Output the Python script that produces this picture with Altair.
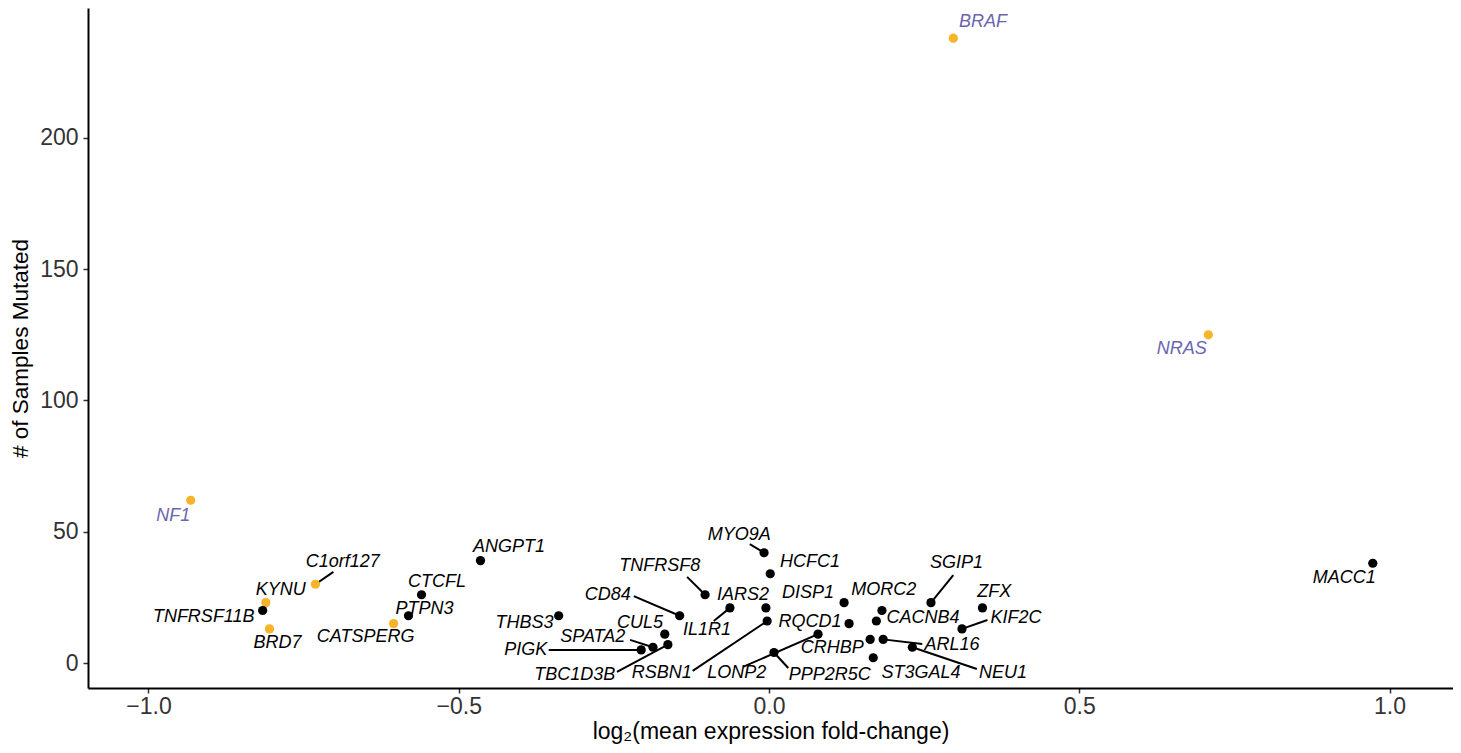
import altair as alt
import pandas as pd

# ---- data ----
genes = ["BRAF", "NRAS", "NF1", "MACC1", "C1orf127", "KYNU", "TNFRSF11B", "BRD7",
         "CATSPERG", "PTPN3", "CTCFL", "ANGPT1", "THBS3", "CD84", "TNFRSF8", "IL1R1",
         "IARS2", "MYO9A", "HCFC1", "RSBN1", "CUL5", "TBC1D3B", "SPATA2", "PIGK",
         "DISP1", "MORC2", "RQCD1", "CACNB4", "SGIP1", "ZFX", "KIF2C", "CRHBP",
         "ARL16", "NEU1", "ST3GAL4", "PPP2R5C", "LONP2"]
log2fc = [0.297, 0.708, -0.932, 0.973, -0.731, -0.811, -0.816, -0.805,
          -0.605, -0.581, -0.560, -0.465, -0.339, -0.144, -0.103, -0.063,
          -0.005, -0.008, 0.002, -0.003, -0.168, -0.163, -0.187, -0.206,
          0.121, 0.182, 0.129, 0.173, 0.261, 0.344, 0.311, 0.163,
          0.184, 0.231, 0.168, 0.008, 0.079]
n_mutated = [238, 125, 62, 38, 30, 23, 20, 13,
             15, 18, 26, 39, 18, 18, 26, 21,
             21, 42, 34, 16, 11, 7, 6, 5,
             23, 20, 15, 16, 23, 21, 13, 9,
             9, 6, 2, 4, 11]
highlighted = ["BRAF", "NRAS", "NF1", "C1orf127", "KYNU", "BRD7", "CATSPERG"]
known_drivers = ["BRAF", "NRAS", "NF1"]

# repelled label anchors (data units)
label_x = [0.345, 0.665, -0.960, 0.927, -0.687, -0.787, -0.911, -0.792,
           -0.650, -0.555, -0.535, -0.419, -0.394, -0.260, -0.176, -0.100,
           -0.042, -0.048, 0.066, -0.173, -0.208, -0.313, -0.284, -0.392,
           0.063, 0.185, 0.066, 0.248, 0.302, 0.363, 0.398, 0.102,
           0.295, 0.377, 0.245, 0.098, -0.052]
label_y = [244, 119.6, 56, 32.4, 38.5, 27.8, 17.5, 7.6,
           9.9, 20.6, 30.9, 44.2, 15.2, 25.9, 37, 12.6,
           25.9, 48.8, 38.5, -3.8, 15.2, -4.6, 9.9, 5.0,
           26.7, 27.8, 15.6, 17.1, 38.1, 27.0, 17.1, 5.7,
           6.9, -3.8, -3.8, -4.6, -3.8]

# connector segments: gene, start x, start y (label side)
seg_genes = ["C1orf127", "CD84", "TNFRSF8", "IL1R1", "MYO9A", "RSBN1", "TBC1D3B",
             "SPATA2", "PIGK", "SGIP1", "KIF2C", "ARL16", "NEU1", "PPP2R5C", "LONP2"]
seg_x = [-0.702, -0.218, -0.132, -0.089, -0.031, -0.123, -0.245,
         -0.224, -0.355, 0.297, 0.352, 0.247, 0.335, 0.031, -0.042]
seg_y = [34.7, 25.5, 32.8, 16.0, 45.3, -3.0, -3.4,
         8.8, 5.0, 33.5, 16.4, 7.2, -2.3, -1.9, -1.5]

df = pd.DataFrame({
    "gene": genes,
    "log2fc": log2fc,
    "n": n_mutated,
    "lx": label_x,
    "ly": label_y,
})
df["point_class"] = ["highlight" if g in highlighted else "other" for g in genes]
df["label_class"] = ["driver" if g in known_drivers else "other" for g in genes]

pos = dict(zip(genes, zip(log2fc, n_mutated)))
seg_df = pd.DataFrame({
    "gene": seg_genes,
    "sx": seg_x,
    "sy": seg_y,
    "px": [pos[g][0] for g in seg_genes],
    "py": [pos[g][1] for g in seg_genes],
})

xs = alt.Scale(domain=[-1.0975, 1.1023], nice=False, zero=False)
ys = alt.Scale(domain=[-9.52, 249.5], nice=False, zero=False)
x_axis = alt.Axis(values=[-1, -0.5, 0, 0.5, 1], format=".1f",
                  title="log₂(mean expression fold-change)", titlePadding=2,
                  labelPadding=2)
y_axis = alt.Axis(values=[0, 50, 100, 150, 200], title="# of Samples Mutated",
                  titlePadding=7, titleFontSize=22.5)

segments = alt.Chart(seg_df).mark_rule(color="black", strokeWidth=2).encode(
    x=alt.X("sx:Q", scale=xs, axis=x_axis),
    y=alt.Y("sy:Q", scale=ys, axis=y_axis),
    x2="px:Q",
    y2="py:Q",
)

points = alt.Chart(df).mark_circle(size=85, opacity=1).encode(
    x=alt.X("log2fc:Q", scale=xs, axis=x_axis),
    y=alt.Y("n:Q", scale=ys, axis=y_axis),
    color=alt.Color("point_class:N",
                    scale=alt.Scale(domain=["highlight", "other"], range=["#F7B329", "#000000"]),
                    legend=None),
)

labels = alt.Chart(df).mark_text(
    fontStyle="italic", fontSize=18, font="Liberation Sans", baseline="middle", align="center"
).encode(
    x=alt.X("lx:Q", scale=xs, axis=x_axis),
    y=alt.Y("ly:Q", scale=ys, axis=y_axis),
    text="gene:N",
    color=alt.Color("label_class:N",
                    scale=alt.Scale(domain=["driver", "other"], range=["#6B65B0", "#000000"]),
                    legend=None),
)

chart = alt.layer(segments, points, labels).resolve_scale(
    color="independent"
).properties(
    width=1365,
    height=680,
    autosize=alt.AutoSizeParams(type="none"),
    padding={"left": 80, "top": 0, "right": 0, "bottom": 57},
).configure_axis(
    grid=False,
    domainColor="black",
    domainWidth=2,
    tickColor="#333333",
    tickSize=5,
    tickWidth=1.5,
    labelFont="Liberation Sans",
    labelFontSize=23,
    labelColor="#333333",
    labelPadding=5,
    titleFont="Liberation Sans",
    titleFontSize=23,
    titleFontWeight="normal",
    titleColor="#000000",
).configure_view(stroke=None)

chart.save("out.html", embed_options={"renderer": "svg", "actions": False})
